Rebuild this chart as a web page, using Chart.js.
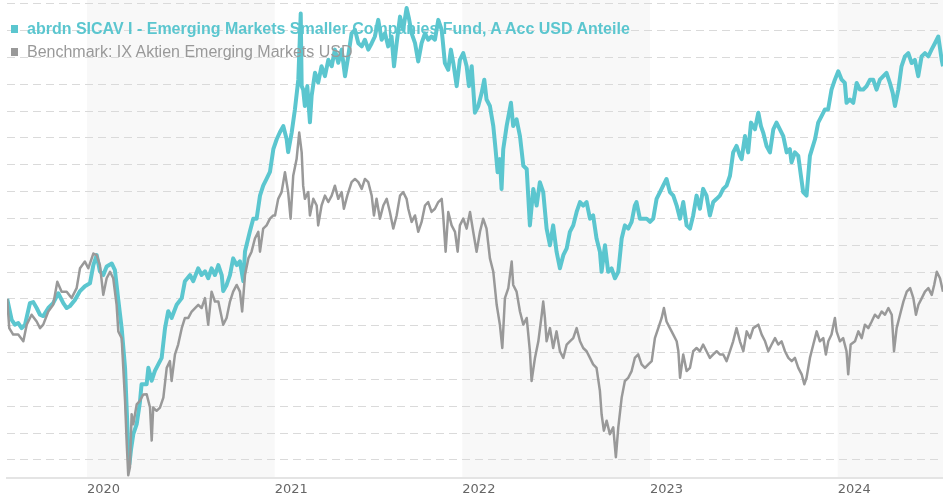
<!DOCTYPE html>
<html>
<head>
<meta charset="utf-8">
<title>abrdn SICAV I - Emerging Markets Smaller Companies Fund</title>
<script src="https://cdn.jsdelivr.net/npm/chart.js@4.4.1/dist/chart.umd.min.js"></script>
<style>
    html, body { margin: 0; padding: 0; background: #fff; }
    #wrap { position: relative; width: 943px; height: 500px; }
    .legend-row {
        position: absolute; left: 11px; height: 18px; line-height: 18px;
        font-family: "Liberation Sans", Arial, sans-serif; font-size: 16px; white-space: nowrap;
    }
    .legend-row .box { display: inline-block; width: 7px; height: 8px; margin-right: 9px; vertical-align: 1px; }
</style>
</head>
<body>
<div id="wrap">
    <canvas id="perfChart" width="943" height="500"></canvas>
    <div class="legend-row" id="legend-fund" style="top:20px;font-weight:bold"></div>
    <div class="legend-row" id="legend-bench" style="top:43px"></div>
</div>
<script>
// ── Data ─────────────────────────────────────────────────────
// x = date as decimal year, y = indexed value (start = 100)
const seriesNames = [
    "abrdn SICAV I - Emerging Markets Smaller Companies Fund, A Acc USD Anteile",
    "Benchmark: IX Aktien Emerging Markets USD"
];
const yearTicks = [2020, 2021, 2022, 2023, 2024];
const shadedYears = [2020, 2022, 2024];
const gridValues = [40, 50, 60, 70, 80, 90, 100, 110, 120, 130, 140, 150, 160, 170, 180, 190, 200, 210];

const fundSeries = [
    [2019.575, 100.0], [2019.599, 92.2], [2019.616, 90.4], [2019.634, 91.0], [2019.652, 89.1],
    [2019.670, 90.4], [2019.696, 98.4], [2019.714, 98.8], [2019.732, 96.6], [2019.750, 94.1],
    [2019.767, 93.6], [2019.794, 96.6], [2019.820, 98.4], [2019.847, 102.1], [2019.874, 98.4],
    [2019.892, 96.6], [2019.909, 97.3], [2019.936, 99.6], [2019.963, 102.9], [2019.989, 104.7],
    [2020.016, 105.8], [2020.034, 112.6], [2020.052, 116.3], [2020.069, 110.3], [2020.087, 108.9],
    [2020.105, 112.1], [2020.132, 113.2], [2020.149, 110.7], [2020.167, 99.6], [2020.185, 89.1],
    [2020.203, 74.3], [2020.212, 58.4], [2020.220, 45.0], [2020.226, 38.4], [2020.235, 44.0],
    [2020.247, 49.6], [2020.265, 53.3], [2020.282, 61.4], [2020.291, 68.2], [2020.318, 68.2],
    [2020.327, 74.3], [2020.345, 69.5], [2020.362, 73.2], [2020.380, 75.6], [2020.398, 78.0],
    [2020.416, 89.1], [2020.433, 95.4], [2020.451, 92.9], [2020.478, 97.8], [2020.505, 100.3],
    [2020.522, 106.6], [2020.549, 108.9], [2020.566, 106.6], [2020.593, 111.4], [2020.611, 108.9],
    [2020.629, 110.3], [2020.646, 107.7], [2020.664, 111.4], [2020.682, 108.9], [2020.700, 112.6],
    [2020.718, 108.9], [2020.726, 102.9], [2020.744, 105.2], [2020.762, 108.9], [2020.779, 115.1],
    [2020.798, 112.6], [2020.815, 114.0], [2020.833, 106.6], [2020.842, 117.7], [2020.868, 125.1],
    [2020.886, 129.9], [2020.904, 129.9], [2020.922, 138.5], [2020.939, 142.2], [2020.957, 144.7],
    [2020.975, 147.3], [2020.993, 155.8], [2021.011, 159.5], [2021.028, 162.1], [2021.046, 164.4],
    [2021.064, 159.5], [2021.072, 154.7], [2021.091, 162.1], [2021.108, 170.6], [2021.126, 181.7],
    [2021.139, 206.4], [2021.144, 179.3], [2021.152, 178.0], [2021.161, 171.9], [2021.174, 179.3],
    [2021.188, 165.8], [2021.197, 175.6], [2021.215, 184.3], [2021.232, 180.6], [2021.250, 186.7],
    [2021.268, 183.0], [2021.286, 189.1], [2021.304, 186.7], [2021.321, 192.9], [2021.339, 188.0],
    [2021.357, 192.9], [2021.375, 183.0], [2021.392, 190.4], [2021.410, 199.0], [2021.428, 200.3],
    [2021.446, 195.3], [2021.464, 194.1], [2021.481, 196.6], [2021.499, 192.9], [2021.517, 195.3],
    [2021.534, 197.8], [2021.552, 204.0], [2021.570, 196.6], [2021.588, 199.0], [2021.605, 194.1],
    [2021.623, 197.8], [2021.636, 186.7], [2021.650, 195.3], [2021.668, 205.2], [2021.685, 200.3],
    [2021.703, 208.4], [2021.715, 204.7], [2021.730, 199.0], [2021.748, 195.3], [2021.765, 188.5],
    [2021.783, 195.3], [2021.801, 199.0], [2021.818, 196.6], [2021.836, 197.8], [2021.854, 196.6],
    [2021.872, 204.0], [2021.890, 200.3], [2021.907, 187.9], [2021.925, 185.4], [2021.939, 192.9],
    [2021.952, 187.9], [2021.970, 179.3], [2021.987, 189.1], [2022.005, 191.6], [2022.023, 186.7],
    [2022.035, 179.3], [2022.050, 186.7], [2022.067, 169.4], [2022.085, 171.9], [2022.103, 176.8],
    [2022.117, 181.7], [2022.129, 174.3], [2022.147, 171.9], [2022.165, 164.4], [2022.177, 155.8],
    [2022.188, 147.2], [2022.200, 152.1], [2022.209, 141.0], [2022.218, 155.8], [2022.236, 164.4],
    [2022.259, 173.1], [2022.271, 164.4], [2022.289, 166.9], [2022.307, 160.7], [2022.325, 149.6],
    [2022.343, 148.4], [2022.360, 127.4], [2022.378, 141.0], [2022.396, 134.8], [2022.413, 143.5],
    [2022.431, 139.8], [2022.449, 126.2], [2022.467, 120.0], [2022.484, 127.4], [2022.502, 117.6],
    [2022.520, 111.4], [2022.538, 116.3], [2022.556, 118.8], [2022.573, 125.0], [2022.591, 127.4],
    [2022.609, 132.4], [2022.627, 136.1], [2022.644, 134.8], [2022.662, 136.1], [2022.680, 129.9],
    [2022.697, 131.1], [2022.715, 122.5], [2022.733, 117.6], [2022.742, 110.1], [2022.760, 120.0],
    [2022.777, 110.1], [2022.795, 111.4], [2022.813, 107.7], [2022.831, 110.1], [2022.849, 122.5],
    [2022.866, 127.4], [2022.884, 126.2], [2022.902, 128.7], [2022.919, 134.8], [2022.928, 136.1],
    [2022.946, 129.9], [2022.964, 129.9], [2022.982, 129.9], [2023.000, 128.7], [2023.017, 129.9],
    [2023.035, 137.3], [2023.053, 139.8], [2023.070, 142.2], [2023.088, 144.7], [2023.106, 139.8],
    [2023.124, 138.5], [2023.142, 134.8], [2023.160, 129.9], [2023.177, 136.1], [2023.195, 127.4],
    [2023.213, 126.2], [2023.230, 131.1], [2023.248, 138.5], [2023.266, 133.6], [2023.283, 141.0],
    [2023.301, 138.5], [2023.319, 131.1], [2023.337, 136.1], [2023.355, 137.3], [2023.372, 138.5],
    [2023.390, 141.0], [2023.408, 142.2], [2023.426, 145.9], [2023.443, 154.6], [2023.461, 157.0],
    [2023.479, 153.3], [2023.488, 152.1], [2023.506, 160.7], [2023.523, 154.6], [2023.538, 165.7],
    [2023.559, 163.2], [2023.577, 169.4], [2023.591, 164.4], [2023.603, 162.0], [2023.621, 157.0],
    [2023.639, 154.6], [2023.657, 163.2], [2023.674, 165.7], [2023.692, 163.2], [2023.710, 160.7],
    [2023.728, 154.6], [2023.745, 155.8], [2023.754, 150.9], [2023.772, 154.6], [2023.790, 153.3],
    [2023.804, 145.9], [2023.816, 139.8], [2023.834, 138.5], [2023.852, 153.3], [2023.879, 159.5],
    [2023.896, 165.7], [2023.914, 168.1], [2023.932, 170.6], [2023.949, 170.6], [2023.967, 178.0],
    [2023.985, 181.7], [2024.003, 184.8], [2024.021, 181.7], [2024.038, 180.5], [2024.047, 173.1],
    [2024.065, 174.3], [2024.083, 173.1], [2024.101, 180.5], [2024.118, 178.0], [2024.136, 178.0],
    [2024.154, 179.3], [2024.172, 181.7], [2024.189, 181.7], [2024.207, 178.0], [2024.225, 181.7],
    [2024.243, 183.0], [2024.260, 184.2], [2024.278, 180.5], [2024.293, 176.8], [2024.305, 171.9],
    [2024.323, 178.0], [2024.340, 186.7], [2024.358, 190.4], [2024.376, 191.6], [2024.394, 187.9],
    [2024.411, 189.1], [2024.429, 183.0], [2024.447, 190.4], [2024.465, 191.6], [2024.483, 190.4],
    [2024.500, 192.9], [2024.518, 195.3], [2024.536, 197.8], [2024.554, 189.1], [2024.561, 186.7]
];

const benchSeries = [
    [2019.575, 100.0], [2019.586, 89.1], [2019.607, 86.7], [2019.634, 86.7], [2019.661, 84.2],
    [2019.679, 90.4], [2019.705, 94.1], [2019.732, 91.6], [2019.750, 89.1], [2019.767, 90.4],
    [2019.794, 95.3], [2019.820, 97.8], [2019.842, 106.4], [2019.865, 102.7], [2019.892, 102.7],
    [2019.918, 100.3], [2019.945, 104.0], [2019.963, 111.4], [2019.989, 113.9], [2020.007, 111.4],
    [2020.034, 116.9], [2020.052, 116.3], [2020.069, 112.6], [2020.087, 101.5], [2020.105, 107.7],
    [2020.123, 110.1], [2020.140, 107.7], [2020.158, 97.8], [2020.167, 87.9], [2020.185, 85.4],
    [2020.203, 62.0], [2020.212, 45.9], [2020.220, 34.3], [2020.229, 37.3], [2020.238, 57.0],
    [2020.247, 53.3], [2020.265, 60.7], [2020.282, 62.0], [2020.300, 64.4], [2020.318, 64.5],
    [2020.336, 59.5], [2020.345, 47.2], [2020.353, 59.5], [2020.371, 58.3], [2020.389, 59.5],
    [2020.407, 63.2], [2020.425, 74.3], [2020.442, 76.8], [2020.451, 69.4], [2020.469, 79.3],
    [2020.486, 83.0], [2020.505, 89.1], [2020.522, 92.9], [2020.540, 92.9], [2020.558, 95.3],
    [2020.576, 96.6], [2020.593, 97.8], [2020.611, 96.6], [2020.629, 100.3], [2020.646, 90.4],
    [2020.664, 102.7], [2020.682, 99.0], [2020.700, 99.0], [2020.726, 90.4], [2020.744, 92.9],
    [2020.762, 99.0], [2020.779, 102.7], [2020.798, 105.2], [2020.815, 102.7], [2020.827, 95.3],
    [2020.842, 108.9], [2020.860, 115.1], [2020.877, 117.6], [2020.895, 122.5], [2020.913, 125.0],
    [2020.922, 117.6], [2020.939, 126.2], [2020.957, 127.4], [2020.975, 129.9], [2020.993, 131.1],
    [2021.002, 131.1], [2021.019, 137.3], [2021.037, 139.8], [2021.055, 147.2], [2021.072, 139.8],
    [2021.085, 129.9], [2021.099, 145.9], [2021.117, 152.1], [2021.131, 162.0], [2021.144, 154.6],
    [2021.152, 142.2], [2021.161, 137.3], [2021.179, 139.8], [2021.188, 131.1], [2021.206, 137.3],
    [2021.224, 134.8], [2021.232, 127.4], [2021.250, 134.8], [2021.268, 138.5], [2021.286, 136.1],
    [2021.304, 138.5], [2021.321, 142.2], [2021.339, 137.3], [2021.357, 139.8], [2021.369, 133.6],
    [2021.387, 138.5], [2021.410, 143.5], [2021.428, 144.7], [2021.446, 143.5], [2021.464, 141.0],
    [2021.481, 144.7], [2021.499, 143.5], [2021.517, 138.5], [2021.529, 131.1], [2021.543, 137.3],
    [2021.561, 129.9], [2021.579, 134.8], [2021.597, 137.3], [2021.614, 132.4], [2021.632, 126.2],
    [2021.650, 131.1], [2021.668, 138.5], [2021.685, 139.8], [2021.703, 137.3], [2021.712, 133.6],
    [2021.730, 128.7], [2021.748, 131.1], [2021.765, 125.0], [2021.783, 128.7], [2021.801, 134.8],
    [2021.818, 136.1], [2021.836, 132.4], [2021.854, 133.6], [2021.872, 136.1], [2021.890, 137.3],
    [2021.898, 131.1], [2021.911, 117.6], [2021.925, 132.4], [2021.943, 127.4], [2021.961, 125.0],
    [2021.975, 117.6], [2021.987, 127.4], [2022.005, 129.9], [2022.023, 126.2], [2022.041, 132.4],
    [2022.058, 125.0], [2022.076, 117.6], [2022.094, 125.0], [2022.111, 129.9], [2022.129, 126.2],
    [2022.147, 115.1], [2022.165, 110.1], [2022.183, 97.8], [2022.200, 90.4], [2022.213, 81.7],
    [2022.227, 100.3], [2022.245, 104.0], [2022.263, 113.9], [2022.271, 105.2], [2022.289, 102.7],
    [2022.307, 95.3], [2022.325, 90.4], [2022.343, 92.9], [2022.360, 80.5], [2022.369, 69.4],
    [2022.387, 78.0], [2022.405, 84.2], [2022.423, 94.1], [2022.431, 99.0], [2022.440, 92.9],
    [2022.449, 84.2], [2022.467, 89.1], [2022.484, 81.7], [2022.502, 87.9], [2022.520, 80.5],
    [2022.538, 78.0], [2022.556, 83.0], [2022.573, 84.2], [2022.591, 85.4], [2022.609, 89.1],
    [2022.627, 84.2], [2022.644, 81.7], [2022.662, 80.5], [2022.680, 78.0], [2022.697, 75.6],
    [2022.715, 74.3], [2022.733, 65.7], [2022.742, 57.0], [2022.754, 50.9], [2022.769, 54.6],
    [2022.786, 49.6], [2022.804, 52.1], [2022.818, 41.0], [2022.831, 52.1], [2022.849, 63.2],
    [2022.866, 69.4], [2022.884, 70.6], [2022.902, 73.1], [2022.919, 78.0], [2022.937, 79.3],
    [2022.955, 75.6], [2022.973, 74.3], [2022.991, 75.6], [2023.009, 76.8], [2023.026, 85.4],
    [2023.044, 89.1], [2023.062, 92.9], [2023.074, 96.6], [2023.088, 91.6], [2023.106, 89.1],
    [2023.124, 86.7], [2023.142, 84.2], [2023.151, 80.5], [2023.160, 70.6], [2023.177, 79.3],
    [2023.195, 73.1], [2023.213, 74.3], [2023.230, 80.5], [2023.248, 81.7], [2023.266, 80.5],
    [2023.283, 83.0], [2023.301, 80.5], [2023.319, 78.0], [2023.337, 79.3], [2023.355, 80.5],
    [2023.372, 79.3], [2023.390, 79.3], [2023.408, 76.8], [2023.426, 80.5], [2023.443, 84.2],
    [2023.461, 89.1], [2023.479, 84.2], [2023.497, 80.5], [2023.515, 87.9], [2023.533, 85.4],
    [2023.550, 89.1], [2023.577, 90.4], [2023.595, 86.7], [2023.613, 84.2], [2023.630, 80.5],
    [2023.648, 83.0], [2023.666, 85.4], [2023.683, 83.0], [2023.701, 84.2], [2023.719, 80.5],
    [2023.737, 78.0], [2023.755, 76.8], [2023.772, 78.0], [2023.790, 74.3], [2023.808, 71.9],
    [2023.822, 68.2], [2023.834, 70.6], [2023.852, 78.0], [2023.870, 83.0], [2023.888, 87.9],
    [2023.905, 84.2], [2023.923, 85.4], [2023.937, 79.3], [2023.950, 84.2], [2023.967, 86.7],
    [2023.985, 92.9], [2023.994, 87.9], [2024.012, 84.2], [2024.029, 85.4], [2024.047, 80.5],
    [2024.056, 71.9], [2024.069, 83.0], [2024.092, 84.2], [2024.110, 87.9], [2024.128, 85.4],
    [2024.145, 90.4], [2024.163, 89.1], [2024.181, 91.6], [2024.198, 94.1], [2024.216, 92.9],
    [2024.234, 95.3], [2024.252, 94.1], [2024.270, 96.6], [2024.288, 94.1], [2024.300, 80.5],
    [2024.314, 89.1], [2024.332, 94.1], [2024.350, 99.0], [2024.368, 102.7], [2024.386, 104.0],
    [2024.403, 100.3], [2024.417, 94.1], [2024.430, 97.8], [2024.448, 100.3], [2024.465, 102.7],
    [2024.483, 104.0], [2024.501, 101.5], [2024.514, 105.2], [2024.528, 110.1], [2024.545, 107.7],
    [2024.561, 102.7]
];

// ── Look ─────────────────────────────────────────────────────
const FUND_COLOR = "#5bc6cf";
const BENCH_COLOR = "#999999";
const X_MIN = 2019.574, X_MAX = 2024.561;
const Y_MIN = 33.1, Y_MAX = 211.4;

// Legend (HTML overlay, sits on top of the plot like the original)
const legendFund = document.getElementById("legend-fund");
legendFund.style.color = FUND_COLOR;
legendFund.innerHTML = `<span class="box" style="background:${FUND_COLOR}"></span>${seriesNames[0]}`;
const legendBench = document.getElementById("legend-bench");
legendBench.style.color = "#999";
legendBench.innerHTML = `<span class="box" style="background:${BENCH_COLOR}"></span>${seriesNames[1]}`;

// Alternating year shading, painted before the grid
const yearBands = {
    id: "yearBands",
    beforeDraw(chart) {
        const { ctx, chartArea: a, scales: { x } } = chart;
        ctx.save();
        ctx.fillStyle = "#f8f8f8";
        shadedYears.forEach(yr => {
            const l = Math.max(x.getPixelForValue(yr), a.left);
            const r = Math.min(x.getPixelForValue(yr + 1), a.right);
            if (r > l) ctx.fillRect(l, a.top, r - l, a.bottom - a.top);
        });
        ctx.restore();
    }
};

const toPoints = rows => rows.map(([x, y]) => ({ x, y }));

new Chart(document.getElementById("perfChart"), {
    type: "line",
    data: {
        datasets: [
            { label: seriesNames[1], data: toPoints(benchSeries), borderColor: BENCH_COLOR, borderWidth: 2.5, order: 0 },
            { label: seriesNames[0], data: toPoints(fundSeries), borderColor: FUND_COLOR, borderWidth: 4, order: 1 }
        ]
    },
    options: {
        responsive: false,
        animation: false,
        events: [],
        layout: { padding: { left: 7, right: 0, top: 0, bottom: 0 } },
        elements: {
            point: { radius: 0 },
            line: { tension: 0, borderJoinStyle: "round", fill: false }
        },
        plugins: { legend: { display: false }, tooltip: { enabled: false } },
        scales: {
            x: {
                type: "linear",
                min: X_MIN,
                max: X_MAX,
                grid: { display: false, drawTicks: false },
                border: { display: true, color: "#e4e4e4", width: 2 },
                afterBuildTicks: s => { s.ticks = yearTicks.map(v => ({ value: v })); },
                ticks: {
                    align: "start",
                    padding: 3,
                    maxRotation: 0,
                    autoSkip: false,
                    color: "#666",
                    font: { family: "'DejaVu Sans', Verdana, sans-serif", size: 13 },
                    callback: v => String(v)
                }
            },
            y: {
                min: Y_MIN,
                max: Y_MAX,
                grid: { color: "#dadada", lineWidth: 1, drawTicks: false },
                border: { display: false, dash: [8, 5] },
                afterBuildTicks: s => { s.ticks = gridValues.map(v => ({ value: v })); },
                ticks: { display: false }
            }
        }
    },
    plugins: [yearBands]
});
</script>
</body>
</html>
